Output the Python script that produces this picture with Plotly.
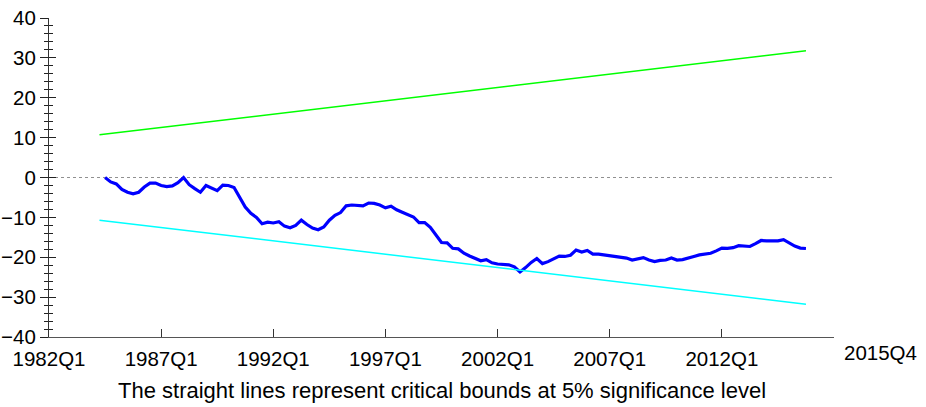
import plotly.graph_objects as go

# ---- data ----
start_year, start_q = 1984, 3          # first CUSUM observation
cusum = [
    0.0, -1.1, -1.6, -3.0, -3.7, -4.1, -3.7, -2.4, -1.4, -1.4,
    -2.0, -2.3, -2.1, -1.3, 0.0, -1.8, -2.8, -3.7, -2.0, -2.6,
    -3.3, -1.9, -2.0, -2.5, -4.8, -7.4, -9.0, -10.0, -11.6, -11.2,
    -11.4, -11.1, -12.2, -12.6, -12.0, -10.7, -11.8, -12.7, -13.1, -12.4,
    -10.7, -9.5, -8.8, -7.1, -6.9, -7.0, -7.1, -6.4, -6.5, -6.9,
    -7.6, -7.2, -8.1, -8.7, -9.2, -9.9, -11.3, -11.3, -12.5, -14.3,
    -16.3, -16.4, -17.75, -17.9, -19.0, -19.7, -20.4, -20.9, -20.6, -21.4,
    -21.7, -21.9, -21.9, -22.4, -23.7, -22.6, -21.3, -20.3, -21.6, -21.1,
    -20.5, -19.7, -19.8, -19.5, -18.2, -18.7, -18.3, -19.2, -19.2, -19.4,
    -19.6, -20.0, -20.1, -20.2, -20.7, -20.3, -20.1, -20.7, -21.1, -20.8,
    -20.7, -20.2, -20.7, -20.6, -20.3, -19.8, -19.4, -19.3, -19.0, -18.4,
    -17.7, -17.75, -17.6, -17.1, -17.3, -17.3, -16.6, -15.8, -15.9, -15.9,
    -15.9, -15.6, -16.5, -17.2, -17.7, -17.8,
]
bound_quarters = ["1984Q2", "2015Q4"]
upper_bound = [10.7, 31.8]
lower_bound = [-10.7, -31.8]

tick_years = [1982, 1987, 1992, 1997, 2002, 2007, 2012, 2017]
tick_labels = ["1982Q1", "1987Q1", "1992Q1", "1997Q1", "2002Q1", "2007Q1", "2012Q1", ""]
end_label = "2015Q4"
caption = "The straight lines represent critical bounds at 5% significance level"


def qnum(y, q):
    return y + (q - 1) / 4.0


def parse_q(s):
    return qnum(int(s[:4]), int(s[5]))


cusum_x = []
y, q = start_year, start_q
for _ in cusum:
    cusum_x.append(qnum(y, q))
    q += 1
    if q > 4:
        q = 1
        y += 1

bound_x = [parse_q(s) for s in bound_quarters]

FONT = "Liberation Sans, Arial, sans-serif"
TICK_SIZE = 20.5

fig = go.Figure()
fig.add_trace(go.Scatter(x=bound_x, y=upper_bound, mode="lines",
                         line=dict(color="#00FF00", width=1.5), hoverinfo="skip"))
fig.add_trace(go.Scatter(x=bound_x, y=lower_bound, mode="lines", yaxis="y2",
                         line=dict(color="#00FFFF", width=1.5), hoverinfo="skip"))
fig.add_trace(go.Scatter(x=cusum_x, y=cusum, mode="lines",
                         line=dict(color="#0000FF", width=3.2)))

fig.add_shape(type="line", xref="paper", x0=0, x1=1, yref="y", y0=0, y1=0,
              line=dict(color="#909090", width=1, dash="dot"), layer="below")

fig.add_annotation(x=2017, xref="x", y=0, yref="paper", text=end_label,
                   showarrow=False, xanchor="center", yanchor="middle",
                   xshift=46, yshift=-15, font=dict(family=FONT, size=TICK_SIZE, color="black"))
fig.add_annotation(x=0.5, xref="paper", y=0, yref="paper", text=caption,
                   showarrow=False, xanchor="center", yanchor="middle",
                   yshift=-53, font=dict(family=FONT, size=22, color="black"))

yaxis_common = dict(range=[-40, 40], dtick=10, tick0=0, showgrid=False, zeroline=False,
                    automargin=False)

fig.update_layout(
    width=926, height=407,
    margin=dict(l=49, r=92, t=18, b=70, autoexpand=False),
    plot_bgcolor="white", paper_bgcolor="white",
    showlegend=False,
    font=dict(family=FONT, size=TICK_SIZE, color="black"),
    xaxis=dict(range=[1982, 2017], tickvals=tick_years, ticktext=tick_labels,
               showgrid=False, zeroline=False, showline=True, linecolor="#555555",
               linewidth=1, ticks="inside", ticklen=8, tickcolor="#333333",
               ticklabelstandoff=3, automargin=False,
               tickfont=dict(family=FONT, size=TICK_SIZE)),
    yaxis=dict(**yaxis_common, showline=True, linecolor="#333333", linewidth=1,
               ticks="outside", ticklen=8, tickcolor="#222222",
               tickfont=dict(family=FONT, size=TICK_SIZE),
               minor=dict(dtick=2, ticks="outside", ticklen=4, tickcolor="#222222")),
    yaxis2=dict(**yaxis_common, overlaying="y", side="left", showline=False,
                showticklabels=False, ticks="inside", ticklen=7, tickcolor="#222222",
                minor=dict(dtick=2, ticks="inside", ticklen=4, tickcolor="#222222")),
)

fig.write_html("out.html", config={"displayModeBar": False},
               post_script="document.body.style.margin='0';")
